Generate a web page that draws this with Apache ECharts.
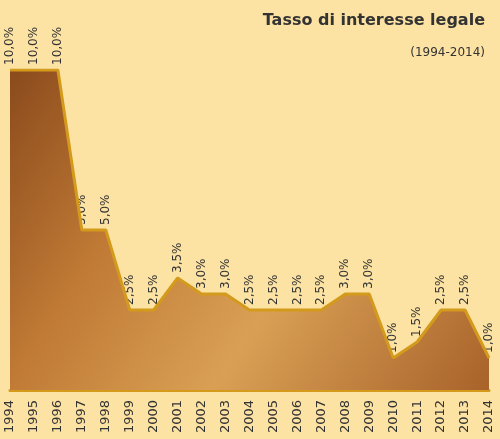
<!DOCTYPE html>
<html><head><meta charset="utf-8">
<script src="https://cdn.jsdelivr.net/npm/echarts@6/dist/echarts.min.js"></script>
<style>html,body{margin:0;padding:0;background:#FDE3A3}#c{width:500px;height:439px}</style>
</head><body><div id="c"></div>
<script>
const years = ['1994','1995','1996','1997','1998','1999','2000','2001','2002','2003','2004','2005','2006','2007','2008','2009','2010','2011','2012','2013','2014'];
const rates = [10,10,10,5,5,2.5,2.5,3.5,3,3,2.5,2.5,2.5,2.5,3,3,1,1.5,2.5,2.5,1];
const rateLabels = ['10,0%','10,0%','10,0%','5,0%','5,0%','2,5%','2,5%','3,5%','3,0%','3,0%','2,5%','2,5%','2,5%','2,5%','3,0%','3,0%','1,0%','1,5%','2,5%','2,5%','1,0%'];
const chart = echarts.init(document.getElementById('c'));
chart.setOption({
  backgroundColor:'#FDE3A3',
  title:[{text:'Tasso di interesse legale',right:10,top:8,textStyle:{fontFamily:'DejaVu Sans',fontSize:16,fontWeight:'bold',color:'#333'}},
         {text:'(1994-2014)',right:10,top:42,textStyle:{fontFamily:'DejaVu Sans',fontSize:12,fontWeight:'normal',color:'#333'}}],
  grid:{left:10,right:11,top:70,bottom:49},
  xAxis:{type:'category',data:years,boundaryGap:false,axisLine:{show:true,lineStyle:{color:'#D49A1C',width:3}},axisTick:{show:false},
    axisLabel:{rotate:90,fontFamily:'DejaVu Sans',fontSize:13,color:'#333',margin:10}},
  yAxis:{type:'value',min:0,max:10,show:false,splitLine:{show:false}},
  series:[{type:'line',data:rates,symbol:'none',
    lineStyle:{color:'#D49A1C',width:3},
    areaStyle:{opacity:1,color:new echarts.graphic.LinearGradient(0,0,1,1,[
      {offset:0,color:'#8A4A1C'},{offset:0.3,color:'#C07A35'},{offset:0.6,color:'#D9A055'},{offset:1,color:'#A8622A'}])}},
    {type:'custom',data:rates.map((v,i)=>[i,v]),silent:true,
     renderItem:function(params,api){
       const pt=api.coord([api.value(0),api.value(1)]);
       return {type:'text',x:pt[0],y:pt[1]-5,rotation:Math.PI/2,
         style:{text:rateLabels[params.dataIndex],align:'left',verticalAlign:'middle',
           font:'12px "DejaVu Sans"',fill:'#333'}};
     }}]
});
</script></body></html>
